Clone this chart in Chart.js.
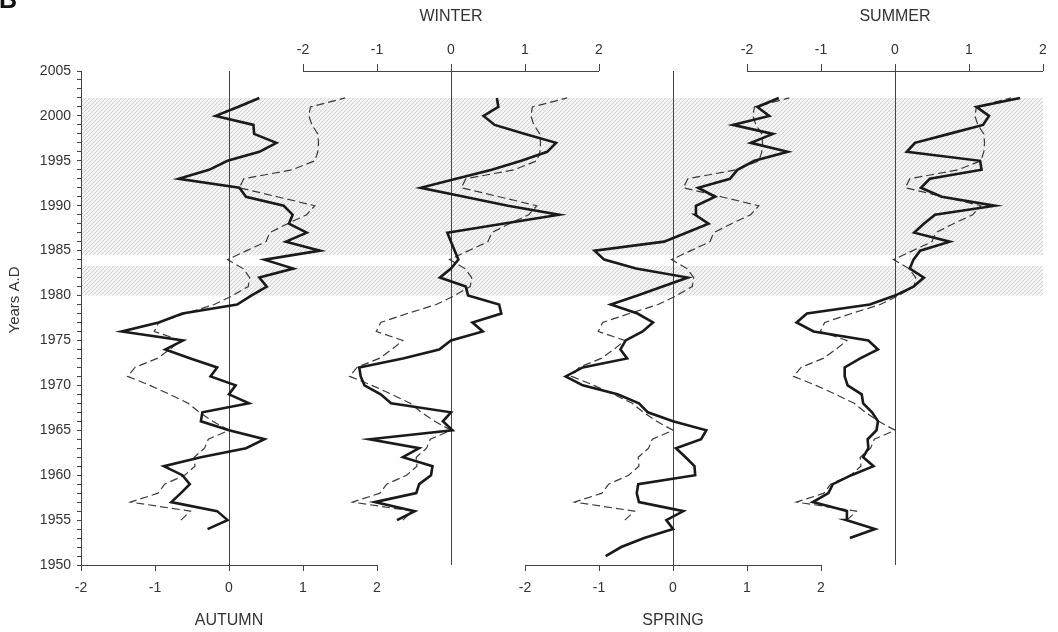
<!DOCTYPE html>
<html>
<head>
<meta charset="utf-8">
<script src="https://cdn.jsdelivr.net/npm/chart.js"></script>
<style>
  html, body { margin: 0; padding: 0; background: #fff; }
  #wrap { width: 1058px; height: 632px; }
</style>
</head>
<body>
<div id="wrap"><canvas id="seasonChart" width="1058" height="632"></canvas></div>
<script>
// Years shared by every series (top to bottom)
const years = [2002, 2001, 2000, 1999, 1998, 1997, 1996, 1995, 1994, 1993,
               1992, 1991, 1990, 1989, 1988, 1987, 1986, 1985, 1984, 1983,
               1982, 1981, 1980, 1979, 1978, 1977, 1976, 1975, 1974, 1973,
               1972, 1971, 1970, 1969, 1968, 1967, 1966, 1965, 1964, 1963,
               1962, 1961, 1960, 1959, 1958, 1957, 1956, 1955, 1954, 1953,
               1952, 1951];

// Seasonal series (solid lines)
const autumn = [0.41, 0.12, -0.18, 0.33, 0.34, 0.64, 0.41, -0.02, -0.27, -0.68,
                0.14, 0.23, 0.74, 0.86, 0.81, 1.05, 0.77, 1.23, 0.48, 0.87,
                0.41, 0.51, 0.30, 0.11, -0.63, -0.95, -1.45, -0.62, -0.86, -0.52,
                -0.16, -0.25, 0.09, 0.00, 0.27, -0.36, -0.38, 0.00, 0.48, 0.23,
                -0.38, -0.88, -0.63, -0.53, -0.65, -0.78, -0.16, -0.02, -0.29, null,
                null, null];
const winter = [0.62, 0.64, 0.44, 0.59, 0.99, 1.42, 1.30, 0.95, 0.55, 0.07,
                -0.41, 0.18, 0.77, 1.46, 0.70, -0.05, 0.00, 0.05, 0.10, 0.00,
                -0.15, 0.20, 0.23, 0.65, 0.68, 0.29, 0.43, 0.00, -0.16, -0.65,
                -1.24, -1.22, -1.17, -0.95, -0.81, 0.00, -0.11, 0.02, -1.10, -0.43,
                -0.65, -0.25, -0.27, -0.43, -0.47, -1.03, -0.49, -0.73, null, null,
                null, null];
const spring = [1.43, 1.14, 1.30, 0.81, 1.35, 1.05, 1.55, 1.10, 0.87, 0.77,
                0.34, 0.57, 0.31, 0.30, 0.48, 0.18, -0.12, -1.06, -0.93, -0.50,
                0.20, -0.14, -0.48, -0.84, -0.48, -0.27, -0.41, -0.64, -0.71, -0.62,
                -1.22, -1.45, -1.22, -0.75, -0.46, -0.34, 0.00, 0.45, 0.38, 0.04,
                0.17, 0.29, 0.30, -0.47, -0.49, -0.46, 0.14, -0.09, 0.00, -0.39,
                -0.70, -0.91];
const summer = [1.69, 1.10, 1.27, 1.19, 0.73, 0.27, 0.16, 1.15, 1.17, 0.47,
                0.35, 0.63, 1.35, 0.54, 0.39, 0.26, 0.74, 0.34, 0.25, 0.20,
                0.39, 0.25, 0.00, -0.34, -1.19, -1.33, -1.10, -0.36, -0.23, -0.47,
                -0.68, -0.68, -0.64, -0.45, -0.43, -0.31, -0.23, -0.25, -0.37, -0.36,
                -0.43, -0.29, -0.59, -0.84, -0.90, -1.11, -0.65, -0.66, -0.27, -0.61,
                null, null];

// Reference series (thin dashed line, same in every panel)
const reference = [1.57, 1.10, 1.08, 1.12, 1.20, 1.21, 1.20, 1.16, 0.85, 0.20,
                   0.14, 0.65, 1.16, 1.05, 0.79, 0.55, 0.50, 0.24, -0.02, 0.19,
                   0.28, 0.26, 0.05, -0.20, -0.59, -0.95, -1.01, -0.65, -0.80, -0.97,
                   -1.27, -1.37, -1.07, -0.80, -0.55, -0.40, -0.22, 0.00, -0.28, -0.33,
                   -0.47, -0.46, -0.60, -0.87, -0.96, -1.33, -0.52, -0.65, null, null,
                   null, null];

// Hatched periods [from, to]
const periods = [[1984.5, 2002], [1980, 1983.3]];

// Tick values on the shared top / bottom axes (second panel shifted by 6 units)
const panelTicks = [-2, -1, 0, 1, 2, 4, 5, 6, 7, 8];

const FONT = "'Liberation Sans', Arial, sans-serif";
const TXT = '#333333';

function toPoints(vals) {
    const pts = [];
    years.forEach((yr, i) => {
        if (vals[i] !== null) pts.push({ x: vals[i], y: yr });
    });
    return pts.reverse(); // ascending years
}

function solid(vals, axis) {
    return {
        data: toPoints(vals),
        xAxisID: axis,
        yAxisID: 'y',
        borderColor: '#1a1a1a',
        borderWidth: 2.6,
        pointRadius: 0,
        tension: 0,
        fill: false,
        order: 1
    };
}

function dashed(axis) {
    return {
        data: toPoints(reference),
        xAxisID: axis,
        yAxisID: 'y',
        borderColor: '#3a3a3a',
        borderWidth: 1.2,
        borderDash: [8, 4],
        pointRadius: 0,
        tension: 0,
        fill: false,
        order: 2
    };
}

// hatch pattern for the shaded periods
function makeHatch() {
    const c = document.createElement('canvas');
    c.width = 4; c.height = 4;
    const g = c.getContext('2d');
    g.fillStyle = '#f4f4f4';
    g.fillRect(0, 0, 4, 4);
    g.strokeStyle = '#d2d2d2';
    g.lineWidth = 1;
    g.beginPath();
    g.moveTo(-1, 5); g.lineTo(5, -1);
    g.moveTo(-3, 3); g.lineTo(3, -3);
    g.moveTo(1, 7); g.lineTo(7, 1);
    g.stroke();
    return g.createPattern(c, 'repeat');
}

const decorPlugin = {
    id: 'decor',
    beforeDatasetsDraw(chart) {
        const { ctx, chartArea, scales } = chart;
        const y = scales.y;
        ctx.save();
        // hatched bands
        ctx.fillStyle = makeHatch();
        periods.forEach(([a, b]) => {
            const top = y.getPixelForValue(b);
            const bot = y.getPixelForValue(a);
            ctx.fillRect(chartArea.left + 1, top, chartArea.right - chartArea.left - 1, bot - top);
        });
        // zero lines of each panel
        ctx.strokeStyle = '#444';
        ctx.lineWidth = 1;
        ['x', 'x2', 'xSp', 'xSu'].forEach(id => {
            const px = Math.round(scales[id].getPixelForValue(0)) + 0.5;
            ctx.beginPath();
            ctx.moveTo(px, chartArea.top);
            ctx.lineTo(px, chartArea.bottom);
            ctx.stroke();
        });
        ctx.restore();
    },
    afterDraw(chart) {
        const { ctx, chartArea, scales } = chart;
        ctx.save();
        // partial axis lines
        ctx.strokeStyle = '#444';
        ctx.lineWidth = 1;
        const seg = (sc, a, b, yy) => {
            ctx.beginPath();
            ctx.moveTo(sc.getPixelForValue(a), yy);
            ctx.lineTo(sc.getPixelForValue(b), yy);
            ctx.stroke();
        };
        const yb = Math.round(chartArea.bottom) + 0.5;
        const yt = Math.round(chartArea.top) + 0.5;
        seg(scales.x, -2, 2, yb);
        seg(scales.x, 4, 8, yb);
        seg(scales.x2, -2, 2, yt);
        seg(scales.x2, 4, 8, yt);

        // panel titles
        ctx.fillStyle = TXT;
        ctx.font = '16px ' + FONT;
        ctx.textAlign = 'center';
        ctx.textBaseline = 'middle';
        ctx.fillText('AUTUMN', scales.x.getPixelForValue(0), 621);
        ctx.fillText('SPRING', scales.xSp.getPixelForValue(0), 621);
        ctx.fillText('WINTER', scales.x2.getPixelForValue(0), 17);
        ctx.fillText('SUMMER', scales.xSu.getPixelForValue(0), 17);

        // y title
        ctx.save();
        ctx.translate(15, 300);
        ctx.rotate(-Math.PI / 2);
        ctx.font = '15px ' + FONT;
        ctx.fillText('Years A.D', 0, 0);
        ctx.restore();

        // panel letter
        ctx.textAlign = 'left';
        ctx.textBaseline = 'alphabetic';
        ctx.fillStyle = '#111';
        ctx.font = 'bold 25px ' + FONT;
        ctx.fillText('B', -1, 8);
        ctx.restore();
    }
};

const shiftLabel = v => (v <= 2 ? v : v - 6);

new Chart(document.getElementById('seasonChart'), {
    type: 'line',
    data: {
        datasets: [
            dashed('x'), dashed('x2'), dashed('xSp'), dashed('xSu'),
            solid(autumn, 'x'), solid(winter, 'x2'), solid(spring, 'xSp'), solid(summer, 'xSu')
        ]
    },
    options: {
        responsive: false,
        animation: false,
        indexAxis: 'y',
        layout: { padding: { left: 0, right: 15, top: 0, bottom: 0 } },
        plugins: {
            legend: { display: false },
            tooltip: { enabled: false }
        },
        scales: {
            y: {
                type: 'linear',
                position: 'left',
                min: 1950,
                max: 2005,
                afterFit: s => { s.width = 81; },
                ticks: {
                    stepSize: 1,
                    autoSkip: false,
                    color: TXT,
                    padding: 6,
                    font: { family: FONT, size: 14 },
                    callback: v => (v % 5 === 0 ? String(v) : '')
                },
                grid: { drawOnChartArea: false, drawTicks: true, tickLength: 4, tickColor: '#444' },
                border: { display: true, color: '#444', width: 1 }
            },
            x: {
                type: 'linear',
                position: 'bottom',
                min: -2,
                max: 11,
                afterFit: s => { s.height = 67; },
                afterBuildTicks: s => { s.ticks = panelTicks.map(v => ({ value: v })); },
                ticks: {
                    color: TXT,
                    padding: 9,
                    maxRotation: 0,
                    autoSkip: false,
                    font: { family: FONT, size: 14 },
                    callback: shiftLabel
                },
                grid: { drawOnChartArea: false, drawTicks: true, tickLength: 6, tickColor: '#444' },
                border: { display: false }
            },
            x2: {
                type: 'linear',
                position: 'top',
                min: -5,
                max: 8,
                afterFit: s => { s.height = 71; },
                afterBuildTicks: s => { s.ticks = panelTicks.map(v => ({ value: v })); },
                ticks: {
                    color: TXT,
                    padding: 5,
                    maxRotation: 0,
                    autoSkip: false,
                    font: { family: FONT, size: 14 },
                    callback: shiftLabel
                },
                grid: { drawOnChartArea: false, drawTicks: true, tickLength: 7, tickColor: '#444' },
                border: { display: false }
            },
            xSp: { type: 'linear', display: false, min: -8, max: 5 },
            xSu: { type: 'linear', display: false, min: -11, max: 2 }
        }
    },
    plugins: [decorPlugin]
});
</script>
</body>
</html>
